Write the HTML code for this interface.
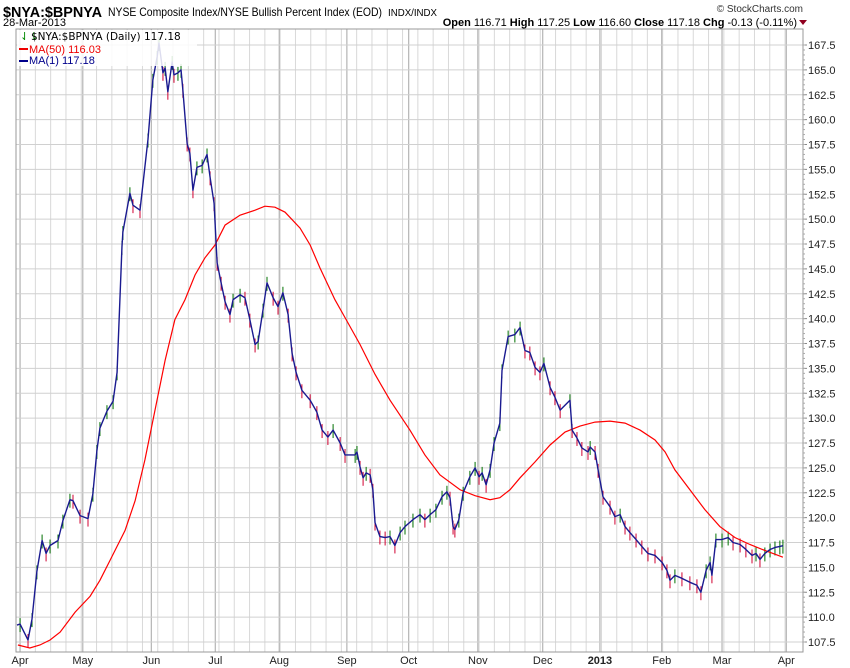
<!DOCTYPE html>
<html><head><meta charset="utf-8"><style>
body{margin:0;background:#fff;}
svg{display:block;font-family:"Liberation Sans",sans-serif;}
</style></head><body>
<svg id="chart" width="850" height="668" xmlns="http://www.w3.org/2000/svg">
<text x="3" y="17" font-size="15" font-weight="bold" fill="#000" textLength="99" lengthAdjust="spacingAndGlyphs">$NYA:$BPNYA</text>
<text x="108" y="16" font-size="12" fill="#000" textLength="274" lengthAdjust="spacingAndGlyphs">NYSE Composite Index/NYSE Bullish Percent Index (EOD)</text>
<text x="388" y="16" font-size="10" fill="#000" textLength="49" lengthAdjust="spacingAndGlyphs">INDX/INDX</text>
<text x="3" y="26" font-size="11" fill="#000">28-Mar-2013</text>
<text x="803" y="12" font-size="10" fill="#333" text-anchor="end">© StockCharts.com</text>
<text x="797" y="26" font-size="11" fill="#000" text-anchor="end"><tspan font-weight="bold">Open</tspan> 116.71  <tspan font-weight="bold">High</tspan> 117.25  <tspan font-weight="bold">Low</tspan> 116.60  <tspan font-weight="bold">Close</tspan> 117.18  <tspan font-weight="bold">Chg</tspan> -0.13 (-0.11%)</text>
<polygon points="799,20 807,20 803,25" fill="#900020"/>
<g id="grid"></g>
<g id="marks"></g>
<rect x="16" y="29" width="787" height="623" fill="none" stroke="#999" stroke-width="1"/>
<g id="axes"></g>
<g>
<rect x="17" y="30" width="180" height="36" fill="#fff" fill-opacity="0.85"/>
<text x="20" y="40" font-size="11" fill="#080">⇃⇂</text>
<text x="31" y="40" font-size="11" fill="#000" style="font-family:'DejaVu Sans',sans-serif;font-size:10.5px">$NYA:$BPNYA (Daily) 117.18</text>
<line x1="19" y1="49" x2="28" y2="49" stroke="#e00" stroke-width="2"/>
<text x="29" y="53" font-size="11" fill="#e00">MA(50) 116.03</text>
<line x1="19" y1="61" x2="28" y2="61" stroke="#00008b" stroke-width="2"/>
<text x="29" y="64" font-size="11" fill="#00008b">MA(1) 117.18</text>
</g>
</svg>
<script>
const closeDays=[0,1.0,3.6,4.9,6.5,8.2,9.5,10.8,13.4,15.0,17.3,18.3,20.6,23.2,24.8,26.1,27.1,29.4,31.4,32.7,34.3,34.6,36.9,37.9,40.2,42.8,44.4,45.8,46.4,47.7,48.4,49.3,50.7,51.3,52.6,53.6,54.2,55.6,56.5,57.5,58.8,60.5,62.1,63.1,64.4,65.4,66.7,68.0,69.6,70.6,72.9,74.5,76.1,77.8,78.8,80.4,81.7,83.7,85.3,86.9,88.6,89.9,91.2,93.1,95.8,98.0,99.7,101.6,103.3,105.6,107.2,110.5,111.1,112.1,113.1,114.1,115.4,116.3,117.0,118.6,120.3,121.9,123.5,125.2,126.8,129.4,131.7,133.3,135.0,136.9,138.9,140.5,141.5,142.5,143.1,144.4,145.8,148.0,149.7,151.0,152.0,153.3,154.6,155.9,157.8,158.5,160.5,162.7,164.4,166.0,167.6,169.3,170.9,172.2,174.2,175.8,177.5,180.7,181.4,183.0,184.6,186.6,187.3,188.9,189.9,191.5,193.8,195.4,197.1,198.7,200.3,202.3,204.2,206.2,208.5,210.8,212.4,213.4,215.0,217.3,219.9,222.2,223.5,225.2,226.5,227.1,228.4,230.4,232.4,234.0,236.3,238.2,240.2,241.5,242.8,244.4,246.1,247.7,249.3,250.3];
const closeValues=[109.2,109.3,107.7,109.8,114.6,117.7,116.4,117.2,117.7,119.7,121.8,121.7,120.2,119.9,122.4,126.7,129,130.7,131.7,134.6,147.2,148.7,152.6,151.4,150.9,158,164,166.3,167.7,164.7,165.2,162.8,165.8,164.5,164.7,165,163,157.6,156.6,152.9,155.2,155.4,156.5,154.2,151.6,145.6,143.6,141.7,140.4,141.9,142.4,142.1,139.9,137.4,137.7,140.9,143.6,142.1,141.2,142.6,140.4,136.5,134.6,132.8,131.8,130.6,128.8,128.1,128.8,127.5,126.3,126.3,126.6,125.1,124,124.5,124.3,122.8,119.5,118.1,118,118.1,117.2,118.5,119.1,119.8,120.3,119.8,120.3,120.8,122.1,122.6,122,119.1,118.8,119.8,122.5,124.1,125,124.1,124.5,123.3,124.8,127.5,129.5,134.8,138.2,138.4,139.1,136.8,136.6,135.1,134.6,135.5,133.1,132.1,130.8,131.8,128.8,128,127,126.6,127.1,126.6,124.8,122.1,121.1,120.1,120.3,119.1,118.5,117.8,117.1,116.4,116.2,115.5,114.7,113.7,114.2,113.9,113.5,113.2,112.5,114.7,115.5,114.2,117.8,117.8,118,117.5,117.3,116.8,116.2,116.4,115.8,116.4,116.8,117,117.1,117.18];
const maDays=[0.3,4.2,7.5,10.8,14.1,19.0,23.9,27.1,30.4,35.3,38.6,41.8,45.1,48.4,51.6,54.9,58.2,61.4,64.7,68.0,72.9,77.8,81.0,84.3,87.6,92.5,95.8,99.0,103.9,107.2,112.1,117.0,121.9,128.4,133.3,138.2,144.8,149.7,154.6,157.8,161.1,164.4,169.3,174.2,179.1,184.0,188.9,193.8,198.7,203.6,208.5,211.8,215.0,219.9,224.8,229.7,234.6,239.5,244.4,250.3];
const maValues=[107.2,106.9,107.2,107.7,108.5,110.5,112.1,113.7,115.7,118.7,121.7,125.8,130.8,135.8,139.9,141.9,144.4,146.1,147.4,149.4,150.4,150.9,151.3,151.2,150.7,149.1,147.4,145.1,141.9,140.1,137.4,134.4,131.8,128.8,126.3,124.3,122.8,122.2,121.8,122,122.8,124,125.6,127.3,128.6,129.2,129.6,129.7,129.5,128.8,127.8,126.6,124.8,122.8,120.8,119.1,118,117.3,116.7,116.03];
const yTicks=[107.5,110.0,112.5,115.0,117.5,120.0,122.5,125.0,127.5,130.0,132.5,135.0,137.5,140.0,142.5,145.0,147.5,150.0,152.5,155.0,157.5,160.0,162.5,165.0,167.5];
const monthLabels=["Apr","May","Jun","Jul","Aug","Sep","Oct","Nov","Dec","2013","Feb","Mar","Apr"];
const monthDays=[1,21.5,43.9,64.8,85.7,107.8,128,150.6,171.8,190.5,210.7,230.4,251.4];

const NS="http://www.w3.org/2000/svg";
const X0=16,X1=803,Y0=29,Y1=652;
function xs(d){return 17+d*3.06;}
function ys(v){return 45+(167.5-v)*9.95;}
function mk(tag,attrs,parent){const e=document.createElementNS(NS,tag);for(const k in attrs)e.setAttribute(k,attrs[k]);parent.appendChild(e);return e;}
const grid=document.getElementById('grid'),marks=document.getElementById('marks'),axes=document.getElementById('axes');
for(let d=1;d<252;d+=5){const l=mk('line',{x1:xs(d),x2:xs(d),y1:Y0,y2:Y1,stroke:'#d8d8d8','stroke-width':1},grid);

}
monthDays.forEach((d,i)=>{const l=mk('line',{x1:xs(d),x2:xs(d),y1:Y0,y2:Y1,stroke:'#b4b4b4','stroke-width':1.2},grid);


const t=mk('text',{x:xs(d),y:664,'font-size':11,'text-anchor':'middle',fill:'#222'},axes);
t.textContent=monthLabels[i];
if(monthLabels[i]==='2013')t.setAttribute('font-weight','bold');

});
yTicks.forEach(v=>{const y=ys(v);const l=mk('line',{x1:X0,x2:X1,y1:y,y2:y,stroke:'#d0d0d0','stroke-width':1},grid);


mk('line',{x1:X1,x2:X1+4,y1:y,y2:y,stroke:'#888'},axes);
const t=mk('text',{x:808,y:y+4,'font-size':11,fill:'#222'},axes);
t.textContent=v.toFixed(1);

});
for(let v=107.5;v<=167.5;v+=0.5){mk('line',{x1:X1,x2:X1+2,y1:ys(v),y2:ys(v),stroke:'#aaa'},axes);}
closeDays.forEach((d,i)=>{if(i===0)return;const up=closeValues[i]>=closeValues[i-1];const v=closeValues[i];
const b=mk('line',{x1:xs(d),x2:xs(d),y1:ys(v+0.6),y2:ys(v-0.8),stroke:up?'#007000':'#d00030','stroke-width':1},marks);

});
const ma=mk('polyline',{points:maDays.map((d,i)=>xs(d)+','+ys(maValues[i])).join(' '),fill:'none',stroke:'#f00','stroke-width':1.2},marks);


const cl=mk('polyline',{points:closeDays.map((d,i)=>xs(d)+','+ys(closeValues[i])).join(' '),fill:'none',stroke:'#1a1a90','stroke-width':1.4,'stroke-linejoin':'round'},marks);


</script>
</body></html>
